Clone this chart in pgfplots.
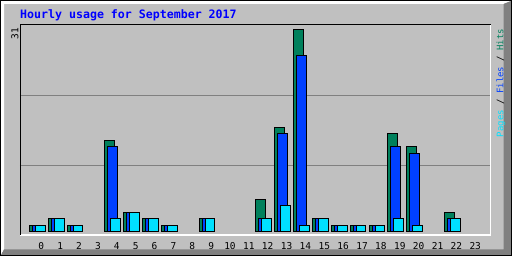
\documentclass[border=0pt]{standalone}
\usepackage{fontspec}
\usepackage{pgfplots}
\pgfplotsset{compat=1.18}
\newfontfamily\mono{DejaVu Sans Mono}
\definecolor{bg}{HTML}{C0C0C0}
\definecolor{dk}{HTML}{808080}
\definecolor{hitscol}{HTML}{00805C}
\definecolor{filescol}{HTML}{0040FF}
\definecolor{pagescol}{HTML}{00E0FF}
\definecolor{titlecol}{HTML}{0000FF}
\begin{document}
\begin{tikzpicture}[x=1pt,y=1pt]
\useasboundingbox (0,0) rectangle (512,256);
\fill[bg] (0,0) rectangle (512,256);
\fill[white] (1,1) -- (1,255) -- (511,255) -- (503.5,252) -- (4,252) -- (4,6.5) -- cycle;
\fill[dk] (1,1) -- (511,1) -- (511,255) -- (503.5,252) -- (503.5,6.5) -- (4,6.5) -- cycle;
\draw[black,line width=1pt] (0.5,0.5) rectangle (511.5,255.5);
\begin{axis}[
  at={(20pt,21pt)}, anchor=south west,
  scale only axis, width=470.7pt, height=210pt,
  xmin=-1.13, xmax=23.82, ymin=-0.46, ymax=31.65,
  axis line style={draw=none},
  axis background/.style={fill=bg},
  ytick={10.2,20.9}, yticklabels={},
  ymajorgrids, grid style={dk, line width=1pt},
  major tick length=0pt,
  xtick={0,1,2,3,4,5,6,7,8,9,10,11,12,13,14,15,16,17,18,19,20,21,22,23},
  xticklabels={0,1,2,3,4,5,6,7,8,9,10,11,12,13,14,15,16,17,18,19,20,21,22,23},
  xticklabel style={font=\mono\fontsize{9.5}{10}\selectfont, yshift=-3.7pt},
  clip=false,
]
\addplot[ybar, bar width=0.514, bar shift=-0.371, fill=hitscol, draw=black, line width=1pt] coordinates {
(0,1) (1,2) (2,1) (4,14) (5,3) (6,2) (7,1) (9,2) (12,5) (13,16) (14,31) (15,2) (16,1) (17,1) (18,1) (19,15) (20,13) (22,3)};
\addplot[ybar, bar width=0.514, bar shift=-0.212, fill=filescol, draw=black, line width=1pt] coordinates {
(0,1) (1,2) (2,1) (4,13) (5,3) (6,2) (7,1) (9,2) (12,2) (13,15) (14,27) (15,2) (16,1) (17,1) (18,1) (19,13) (20,12) (22,2)};
\addplot[ybar, bar width=0.514, bar shift=-0.053, fill=pagescol, draw=black, line width=1pt] coordinates {
(0,1) (1,2) (2,1) (4,2) (5,3) (6,2) (7,1) (9,2) (12,2) (13,4) (14,1) (15,2) (16,1) (17,1) (18,1) (19,2) (20,1) (22,2)};
\end{axis}
% plot frame: top/left black, bottom/right white
\draw[white,line width=1.5pt] (20,21) -- (490.7,21) -- (490.7,231);
\draw[black,line width=1pt] (20,21) -- (20,231) -- (490.7,231);
\node[font=\mono\fontsize{9.5}{10}\selectfont, rotate=90, inner sep=0pt] at (15,222.5) {31};
\node[font=\mono\fontsize{9}{10}\selectfont, rotate=90, inner sep=0pt] at (501,173)
  {\textcolor{pagescol}{Pages} / \textcolor{filescol}{Files} / \textcolor{hitscol}{Hits}};
\node[font=\mono\bfseries\fontsize{11.6}{12}\selectfont, text=titlecol, anchor=base west, inner sep=0pt] at (20,237) {Hourly usage for September 2017};
\end{tikzpicture}
\end{document}
